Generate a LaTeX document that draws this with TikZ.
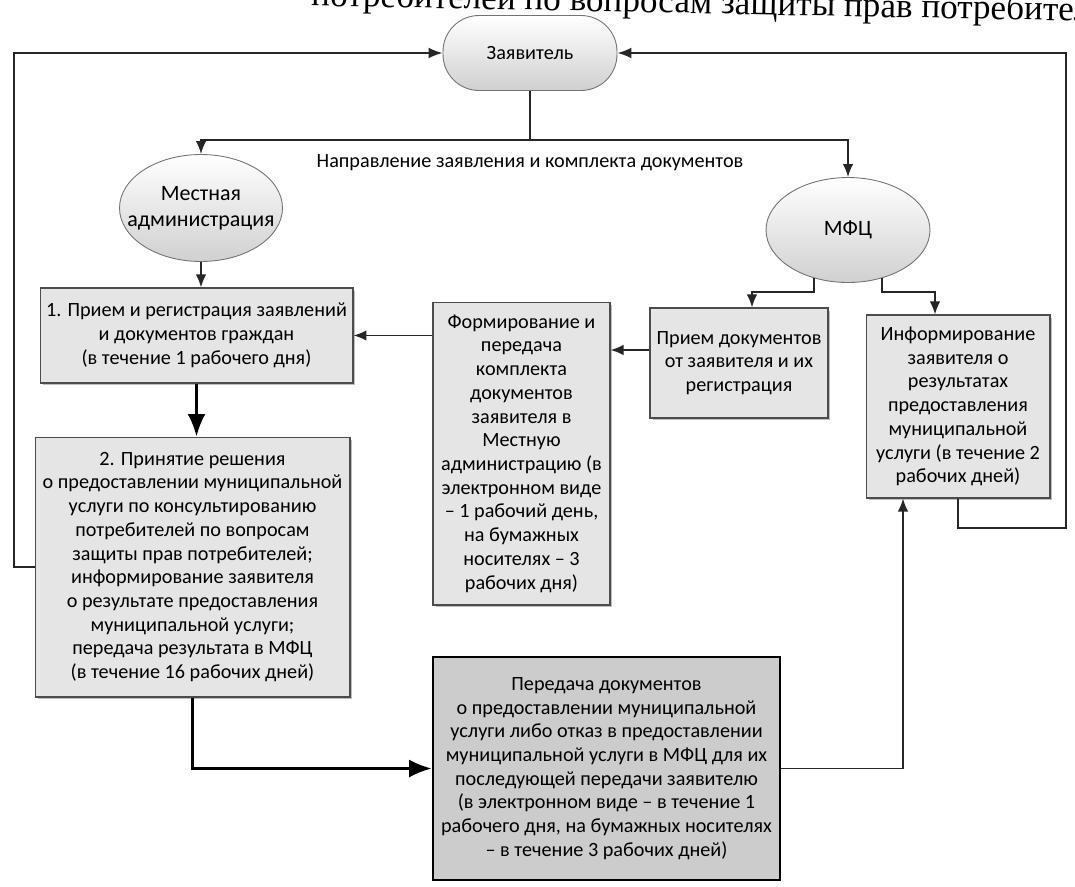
\documentclass[tikz,border=0pt]{standalone}
\usepackage{fontspec}
\setmainfont{Carlito}
\newfontfamily\timesfont{Liberation Serif}
\usetikzlibrary{arrows.meta,shapes.geometric,calc,shadows}
\definecolor{boxgray}{RGB}{229,229,229}
\definecolor{darkbox}{RGB}{204,204,204}
\definecolor{ovalgray}{RGB}{208,208,208}
\newcommand\bodyfont{\fontsize{11.5}{13.5}\selectfont}
\newcommand\ovalfont{\fontsize{12.5}{15}\selectfont}
\newcommand\zw[1]{\makebox[0pt][c]{#1}}
\tikzset{
  boxshadow/.style={drop shadow={shadow xshift=0.05cm, shadow yshift=-0.05cm, fill=black!45, opacity=0.55}},
  box/.style={rectangle, draw=black!70, line width=0.6pt, fill=boxgray, align=center, inner sep=2pt, font=\bodyfont, boxshadow},
  darkboxst/.style={rectangle, draw=black, line width=1.5pt, fill=darkbox, align=center, inner sep=2pt, font=\bodyfont},
  oval/.style={ellipse, draw=black!55, line width=0.5pt, top color=white, bottom color=ovalgray, align=center, inner sep=0pt, font=\ovalfont},
  stadium/.style={rectangle, rounded corners=0.72cm, draw=black!55, line width=0.5pt, top color=white, bottom color=ovalgray, align=center, font=\bodyfont},
  conn/.style={draw=black!85, line width=1pt},
  arr/.style={conn, -{Latex[length=0.26cm,width=0.21cm]}},
  thickarr/.style={draw=black, line width=1.6pt, -{Latex[length=0.45cm,width=0.36cm]}},
  loopline/.style={draw=black!85, line width=1.2pt, -{Latex[length=0.28cm,width=0.22cm]}},
}
\begin{document}
\begin{tikzpicture}[x=0.02cm,y=-0.02cm]
\useasboundingbox (0,0) rectangle (1075,886);
\clip (0,0) rectangle (1075,886);
\fill[white] (0,0) rectangle (1075,886);

% cut-off line of the page text above the scheme
\node[rotate=-1.15, anchor=base east, font=\timesfont\fontsize{20}{24}\selectfont, inner sep=0pt] (head) at (1126,22) {потребителей по вопросам защиты прав потребителей};

% nodes
\node[stadium, minimum width=3.48cm, minimum height=1.5cm] (zay) at (530,53) {Заявитель};
\node[oval, minimum width=3.26cm, minimum height=2.14cm] (mest) at (201,208) {\zw{Местная}\\\zw{администрация}};
\node[oval, minimum width=3.28cm, minimum height=2.1cm] (mfc) at (848,230) {\zw{МФЦ}};
\node[font=\bodyfont] (lbl) at (530,163) {Направление заявления и комплекта документов};

\node[box, minimum width=6.26cm, minimum height=1.9cm] (b1) at (196.5,335.5)
  {1. Прием и регистрация заявлений\\и документов граждан\\(в течение 1 рабочего дня)};
\node[box, minimum width=6.3cm, minimum height=5.2cm] (b2) at (192.5,567)
  {2. Принятие решения\\о предоставлении муниципальной\\услуги по консультированию\\потребителей по вопросам\\защиты прав потребителей;\\информирование заявителя\\о результате предоставления\\муниципальной услуги;\\передача результата в МФЦ\\(в течение 16 рабочих дней)};
\node[box, minimum width=3.54cm, minimum height=6.06cm] (b3) at (521.5,453.5)
  {Формирование и\\передача\\комплекта\\документов\\заявителя в\\Местную\\администрацию (в\\электронном виде\\– 1 рабочий день,\\на бумажных\\носителях – 3\\рабочих дня)};
\node[box, minimum width=3.56cm, minimum height=2.2cm] (b4) at (739,363)
  {Прием документов\\от заявителя и их\\регистрация};
\node[box, minimum width=3.68cm, minimum height=3.66cm] (info) at (958,406.5)
  {Информирование\\заявителя о\\результатах\\предоставления\\муниципальной\\услуги (в течение 2\\рабочих дней)};
\node[darkboxst, minimum width=6.94cm, minimum height=4.46cm] (b5) at (606.5,768.5)
  {Передача документов\\о предоставлении муниципальной\\услуги либо отказ в предоставлении\\муниципальной услуги в МФЦ для их\\последующей передачи заявителю\\(в электронном виде – в течение 1\\рабочего дня, на бумажных носителях\\– в течение 3 рабочих дней)};

% helper coordinates
\coordinate (br) at (530,140);
\coordinate (ml) at (752,292);
\coordinate (mr) at (935,292);
\coordinate (b4a) at ($(b4.west)+(0,-13)$);
\coordinate (rb) at (1066,528);
\coordinate (rt) at (1066,53);
\coordinate (lb) at (14,567);
\coordinate (lt) at (14,53);

% connectors
\draw[conn] (zay.south) -- (br);
\draw[arr] (br) -| (mest.north);
\draw[arr] (br) -| (mfc.north);
\draw[arr] (mest.south) -- (mest.south |- b1.north);
\draw[thickarr] (b1.south) -- (b1.south |- b2.north);
\draw[arr] (b3.west |- b1.east) -- (b1.east);
\draw[arr] (b4a) -- (b4a -| b3.east);
\draw[arr] (mfc.235) |- (ml) -- (ml |- b4.north);
\draw[arr] (mfc.305) |- (mr) -- (mr |- info.north);
\draw[thickarr] (b2.south) |- (b5.west);
\draw[arr] (b5.east) -| ([xshift=-1.1cm]info.south);
\draw[loopline] (info.south) |- (rb) -- (rt) -- (zay.east);
\draw[loopline] (b2.west) -- (lb) -- (lt) -- (zay.west);
\end{tikzpicture}
\end{document}
